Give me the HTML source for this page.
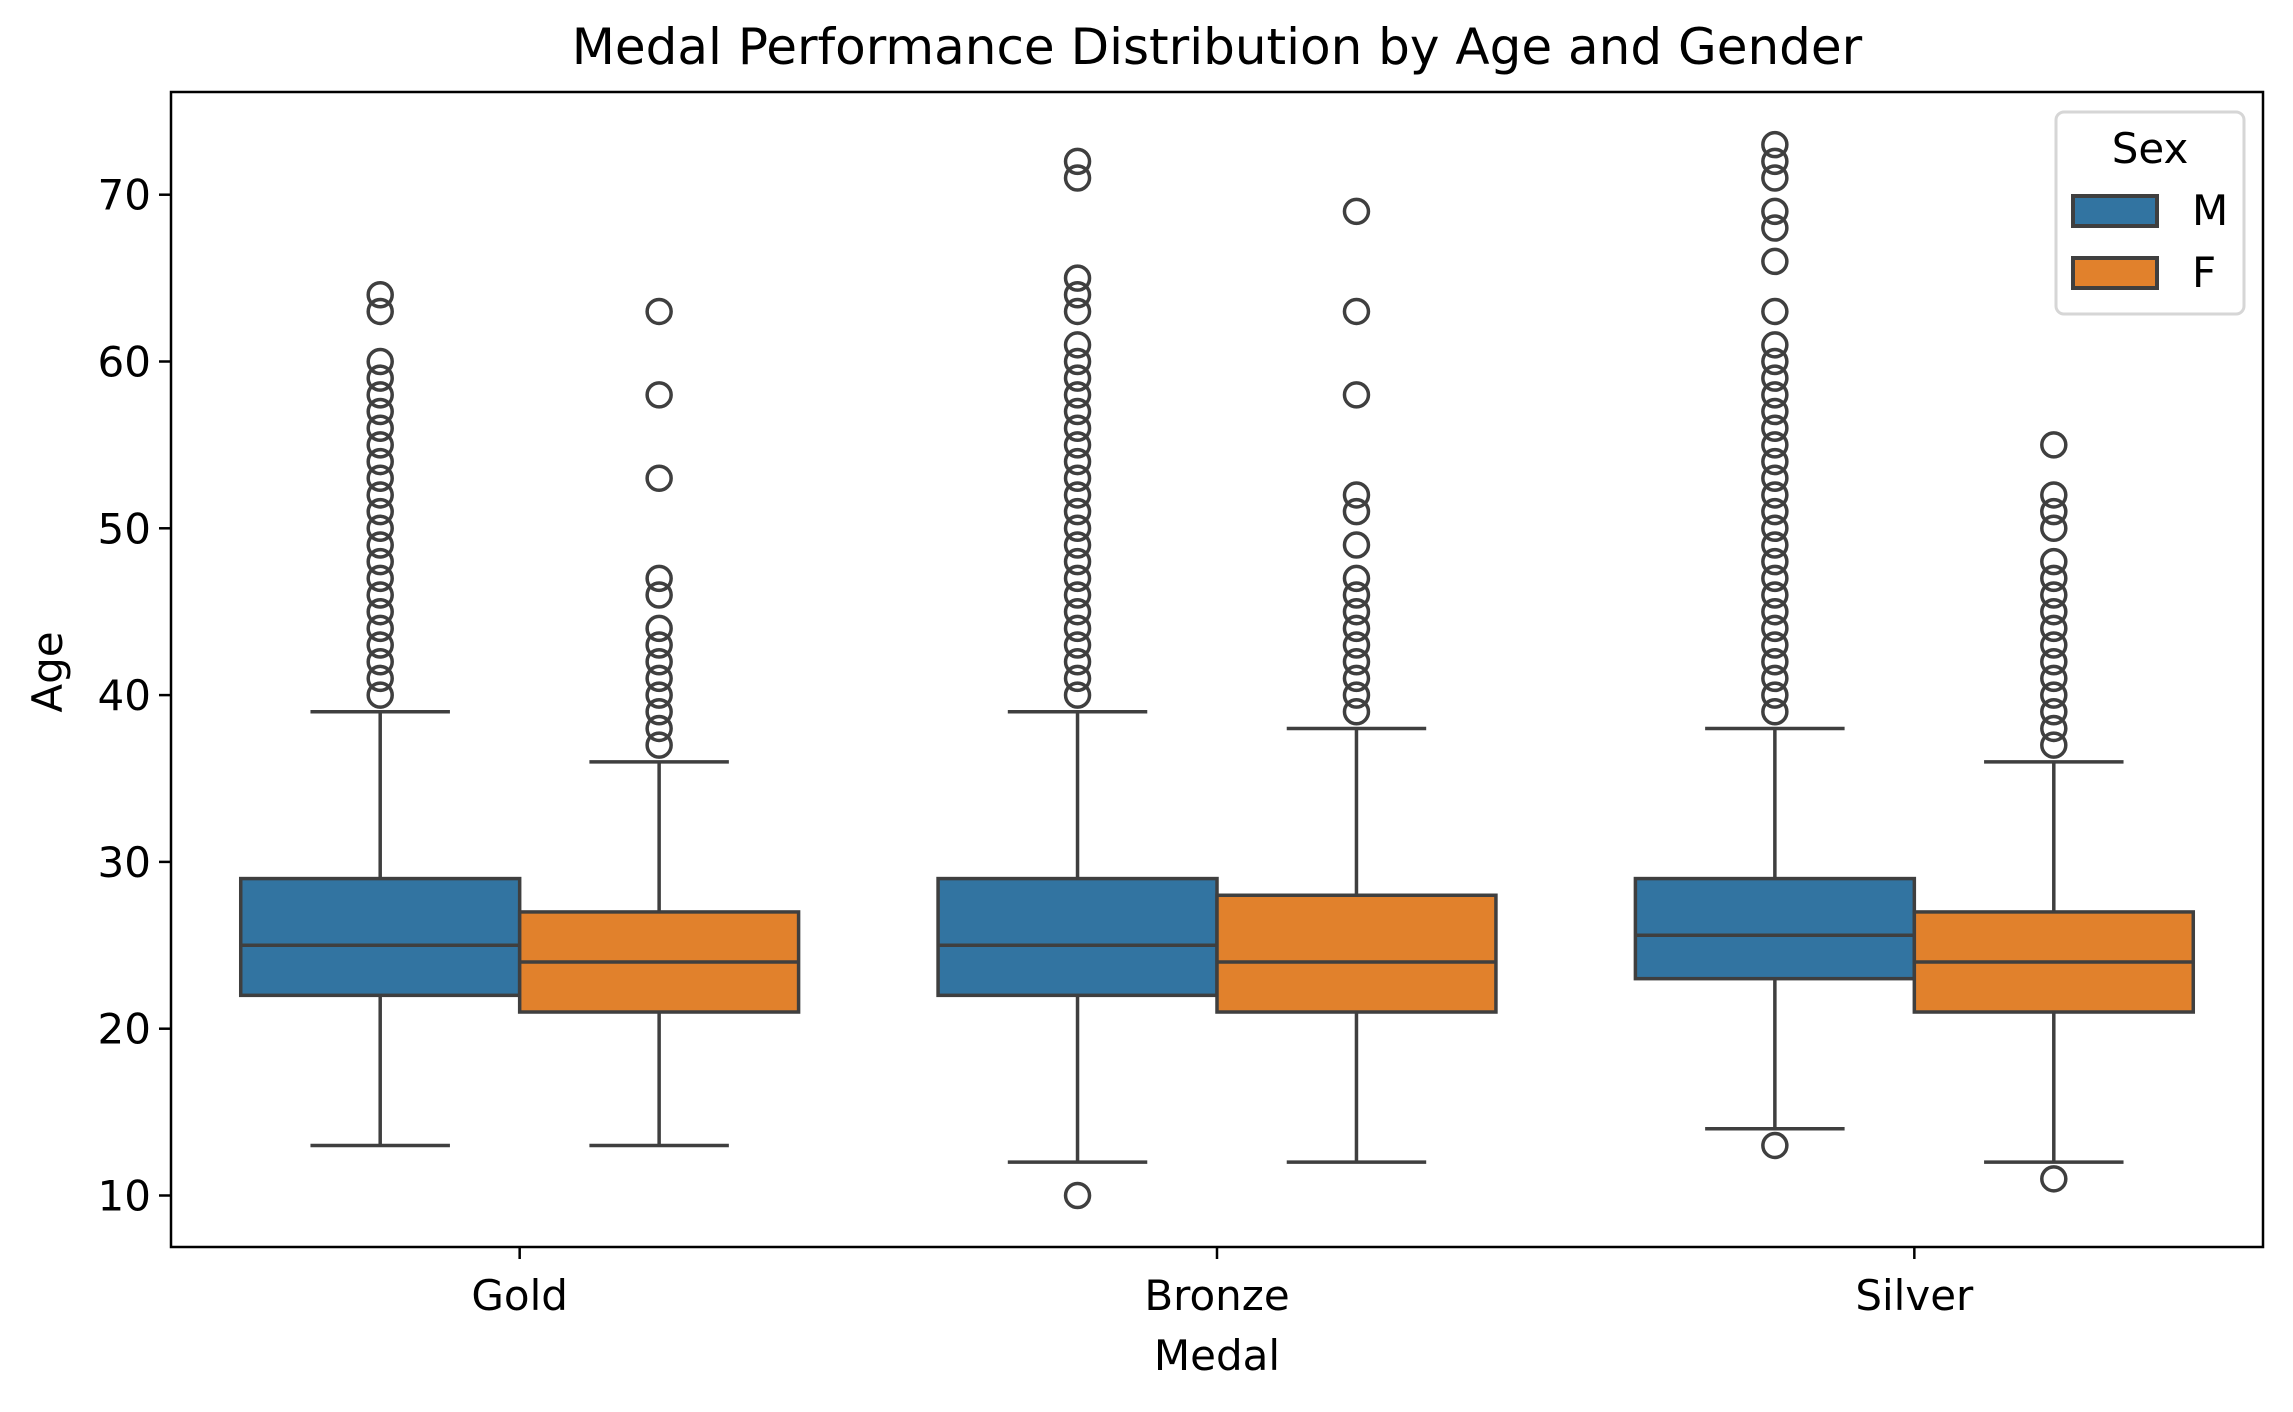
<!DOCTYPE html>
<html><head><meta charset="utf-8"><style>
body{margin:0;background:#fff}
svg text{font-family:"DejaVu Sans","Liberation Sans",sans-serif;fill:#000}
</style></head><body>
<svg id="chart" width="2293" height="1407" xmlns="http://www.w3.org/2000/svg">
<rect width="2293" height="1407" fill="#fff"/>
<text x="1217" y="64" font-size="50" text-anchor="middle">Medal Performance Distribution by Age and Gender</text>
<g id="plot"></g>
<text transform="translate(62,672) rotate(-90)" font-size="42" text-anchor="middle">Age</text>
<text x="1217" y="1370" font-size="42" text-anchor="middle">Medal</text>
<g>
<rect x="2056" y="112" width="188" height="202" rx="8" fill="#fff" stroke="#d6d6d6" stroke-width="3"/>
<text x="2150" y="163" font-size="42" text-anchor="middle">Sex</text>
<rect x="2073" y="196" width="84" height="30" fill="#3274a1" stroke="#3f3f3f" stroke-width="4"/>
<text x="2192" y="225" font-size="42">M</text>
<rect x="2073" y="258" width="84" height="30" fill="#e1812c" stroke="#3f3f3f" stroke-width="4"/>
<text x="2192" y="287" font-size="42">F</text>
</g>
</svg>
<script>
const categories = ["Gold","Bronze","Silver"];
const sexes = ["M","F"];
const colors = ["#3274a1","#e1812c"];
const yTicks = [10,20,30,40,50,60,70];
// [lowWhisker, q1, median, q3, highWhisker] per category per sex
const statsM = [[13,22,25,29,39],[12,22,25,29,39],[14,23,25.6,29,38]];
const statsF = [[13,21,24,27,36],[12,21,24,28,38],[12,21,24,27,36]];
const outliersM = [
 [40,41,42,43,44,45,46,47,48,49,50,51,52,53,54,55,56,57,58,59,60,63,64],
 [10,40,41,42,43,44,45,46,47,48,49,50,51,52,53,54,55,56,57,58,59,60,61,63,64,65,71,72],
 [13,39,40,41,42,43,44,45,46,47,48,49,50,51,52,53,54,55,56,57,58,59,60,61,63,66,68,69,71,72,73]
];
const outliersF = [
 [37,38,39,40,41,42,43,44,46,47,53,58,63],
 [39,40,41,42,43,44,45,46,47,49,51,52,58,63,69],
 [11,37,38,39,40,41,42,43,44,45,46,47,48,50,51,52,55]
];
const NS="http://www.w3.org/2000/svg";
const L=171,R=2263,T=92,B=1247;
const yMin=10,yPx10=1195.5,pxPerUnit=16.68;
function yS(v){return yPx10-(v-yMin)*pxPerUnit;}
const band=(R-L)/categories.length;
function xC(i){return L+band*(i+0.5);}
const g=document.getElementById('plot');
function mk(tag,attrs,parent){const e=document.createElementNS(NS,tag);for(const k in attrs)e.setAttribute(k,attrs[k]);(parent||g).appendChild(e);return e;}
// y ticks
yTicks.forEach(v=>{
 const y=yS(v);
 const t=mk('line',{x1:L-12,x2:L,y1:y,y2:y,stroke:'#000','stroke-width':2.5});
 
 
 const tx=mk('text',{x:L-20,y:y+15,'font-size':42,'text-anchor':'end'});
 tx.textContent=v;
 
 
});
// x ticks
categories.forEach((c,i)=>{
 const x=xC(i);
 const t=mk('line',{x1:x,x2:x,y1:B,y2:B+12,stroke:'#000','stroke-width':2.5});
 
 
 const tx=mk('text',{x:x,y:1310,'font-size':42,'text-anchor':'middle'});
 tx.textContent=c;
 
 
});
const boxW=band*0.4;
const allStats=[statsM,statsF], allOut=[outliersM,outliersF];
categories.forEach((c,i)=>{
 sexes.forEach((s,j)=>{
  const st=allStats[j][i];
  const cx=xC(i)+(j===0?-boxW/2:boxW/2);
  const grp=mk('g',{});
  
  
  const ln={stroke:'#3f3f3f','stroke-width':3.5};
  mk('line',Object.assign({x1:cx,x2:cx,y1:yS(st[0]),y2:yS(st[1])},ln),grp);
  mk('line',Object.assign({x1:cx,x2:cx,y1:yS(st[3]),y2:yS(st[4])},ln),grp);
  mk('line',Object.assign({x1:cx-boxW/4,x2:cx+boxW/4,y1:yS(st[0]),y2:yS(st[0])},ln),grp);
  mk('line',Object.assign({x1:cx-boxW/4,x2:cx+boxW/4,y1:yS(st[4]),y2:yS(st[4])},ln),grp);
  mk('rect',Object.assign({x:cx-boxW/2,y:yS(st[3]),width:boxW,height:yS(st[1])-yS(st[3]),fill:colors[j]},ln),grp);
  mk('line',Object.assign({x1:cx-boxW/2,x2:cx+boxW/2,y1:yS(st[2]),y2:yS(st[2])},ln),grp);
  allOut[j][i].forEach(v=>{
   const o=mk('circle',{cx:cx,cy:yS(v),r:12,fill:'none',stroke:'#3f3f3f','stroke-width':3.5},grp);
   
   
  });
 });
});
const fr=mk('rect',{x:L,y:T,width:R-L,height:B-T,fill:'none',stroke:'#000','stroke-width':2.5});


</script>
</body></html>
